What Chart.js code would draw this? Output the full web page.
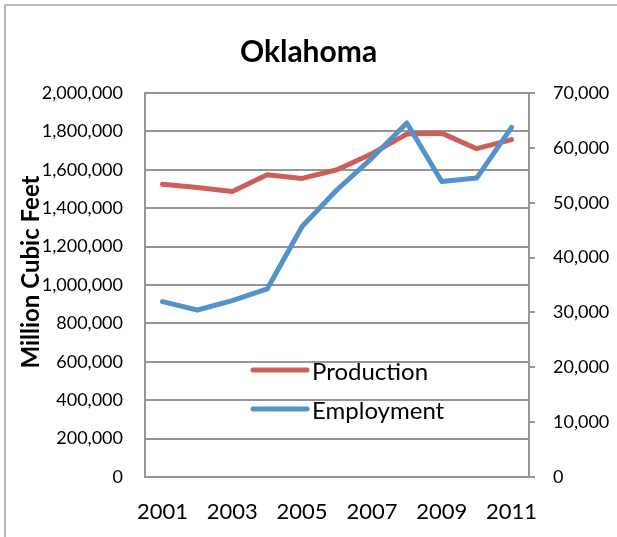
<!DOCTYPE html>
<html>
<head>
<meta charset="utf-8">
<title>Oklahoma</title>
<script src="https://cdn.jsdelivr.net/npm/chart.js@4/dist/chart.umd.min.js"></script>
<style>
  html, body { margin: 0; padding: 0; background: #fff; }
  #wrap { position: relative; width: 617px; height: 537px; }
</style>
</head>
<body>
<div id="wrap"><canvas id="chart" width="617" height="537"></canvas></div>
<script>
// Oklahoma natural gas: marketed production (left axis) and employment (right axis)
const years = ['2001', '2002', '2003', '2004', '2005', '2006', '2007', '2008', '2009', '2010', '2011'];
const production = [1525000, 1508000, 1487000, 1574000, 1555000, 1600000, 1684000, 1786000, 1791000, 1710000, 1757000];
const employment = [31960, 30440, 32140, 34280, 45660, 52360, 58140, 64540, 53880, 54490, 63740];

const leftTicks = { min: 0, max: 2000000, step: 200000 };
const rightTicks = { min: 0, max: 70000, step: 10000 };

const FONT = 'Lato, "Liberation Sans", sans-serif';
const GRID = '#969696';
const fmt = v => Number(v).toLocaleString('en-US');

// outer frame of the chart object
const framePlugin = {
  id: 'frame',
  beforeDraw(chart) {
    const ctx = chart.ctx;
    ctx.save();
    ctx.strokeStyle = '#a8a8a8';
    ctx.lineWidth = 1.6;
    ctx.beginPath();
    ctx.moveTo(5, chart.height);
    ctx.lineTo(5, 5);
    ctx.lineTo(chart.width, 5);
    ctx.stroke();
    ctx.restore();
  }
};

// rotated title for the primary value axis
const axisTitlePlugin = {
  id: 'axisTitle',
  afterDraw(chart) {
    const ctx = chart.ctx;
    const a = chart.chartArea;
    ctx.save();
    ctx.translate(31, (a.top + a.bottom) / 2 - 13);
    ctx.rotate(-Math.PI / 2);
    ctx.font = 'bold 24px ' + FONT;
    ctx.fillStyle = '#000';
    ctx.textAlign = 'center';
    ctx.textBaseline = 'middle';
    ctx.fillText('Million Cubic Feet', 0, 0);
    ctx.restore();
  }
};

// legend placed inside the plot area
const innerLegendPlugin = {
  id: 'innerLegend',
  afterDatasetsDraw(chart) {
    const ctx = chart.ctx;
    const a = chart.chartArea;
    const x0 = a.left + 108, x1 = a.left + 162;
    const rows = [a.top + 277, a.top + 316];
    ctx.save();
    chart.data.datasets.forEach((ds, i) => {
      const y = rows[i];
      ctx.strokeStyle = ds.borderColor;
      ctx.lineWidth = 5;
      ctx.lineCap = 'round';
      ctx.beginPath();
      ctx.moveTo(x0, y);
      ctx.lineTo(x1, y);
      ctx.stroke();
      ctx.font = '24px ' + FONT;
      ctx.fillStyle = '#000';
      ctx.textAlign = 'left';
      ctx.textBaseline = 'middle';
      ctx.fillText(ds.label, x1 + 5, y + 2);
    });
    ctx.restore();
  }
};

new Chart(document.getElementById('chart'), {
  type: 'line',
  data: {
    labels: years,
    datasets: [
      {
        label: 'Production',
        data: production,
        yAxisID: 'y',
        borderColor: '#cd5f5a',
        backgroundColor: '#cd5f5a',
        borderWidth: 5,
        pointRadius: 0,
        tension: 0,
        borderCapStyle: 'round',
        borderJoinStyle: 'round',
        order: 1
      },
      {
        label: 'Employment',
        data: employment,
        yAxisID: 'y1',
        borderColor: '#5592cc',
        backgroundColor: '#5592cc',
        borderWidth: 5,
        pointRadius: 0,
        tension: 0,
        borderCapStyle: 'round',
        borderJoinStyle: 'round',
        order: 0
      }
    ]
  },
  options: {
    responsive: false,
    animation: false,
    layout: { padding: { left: 0, right: 0, top: 0, bottom: 0 } },
    plugins: {
      legend: { display: false },
      tooltip: { enabled: false },
      title: {
        display: true,
        text: 'Oklahoma',
        color: '#000',
        font: { family: FONT, size: 30, weight: 'bold' },
        padding: { top: 34, bottom: 23 }
      }
    },
    scales: {
      x: {
        type: 'category',
        offset: true,
        grid: { display: false, drawTicks: false },
        border: { display: true, color: GRID, width: 2 },
        ticks: {
          autoSkip: false,
          maxRotation: 0,
          padding: 22,
          color: '#000',
          font: { family: FONT, size: 22 },
          callback: function (value, index) {
            return index % 2 === 0 ? this.getLabelForValue(value) : '';
          }
        },
        afterFit(scale) { scale.height = 60; }
      },
      y: {
        position: 'left',
        min: leftTicks.min,
        max: leftTicks.max,
        grid: { color: GRID, lineWidth: 2, drawTicks: false },
        border: { display: true, color: GRID, width: 2 },
        ticks: {
          stepSize: leftTicks.step,
          padding: 22,
          color: '#000',
          font: { family: FONT, size: 18 },
          callback: v => fmt(v)
        },
        afterFit(scale) { scale.width = 145; }
      },
      y1: {
        position: 'right',
        min: rightTicks.min,
        max: rightTicks.max,
        grid: { drawOnChartArea: false, color: GRID, lineWidth: 2, tickLength: 6 },
        border: { display: true, color: GRID, width: 2 },
        ticks: {
          stepSize: rightTicks.step,
          padding: 18,
          color: '#000',
          font: { family: FONT, size: 18 },
          callback: v => fmt(v)
        },
        afterFit(scale) { scale.width = 88; }
      }
    }
  },
  plugins: [framePlugin, axisTitlePlugin, innerLegendPlugin]
});
</script>
</body>
</html>
